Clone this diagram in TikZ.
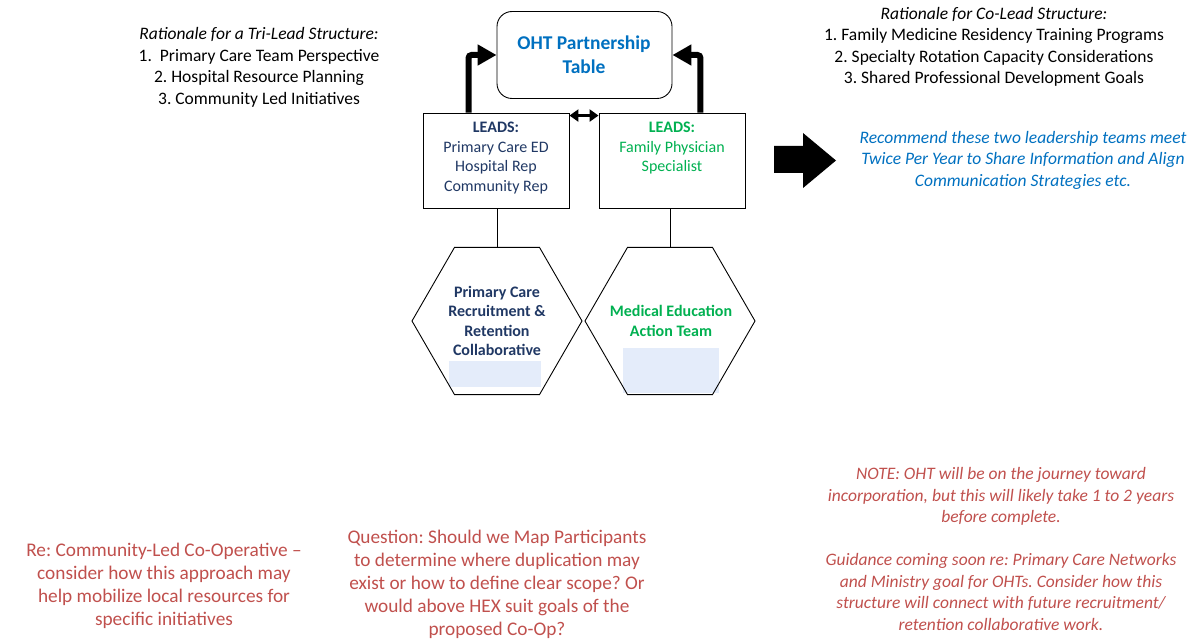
\documentclass[tikz,border=0pt]{standalone}
\usepackage{fontspec}
\setmainfont{Carlito}
\usetikzlibrary{shapes.geometric,arrows.meta}
\definecolor{navy}{HTML}{203864}
\definecolor{mygreen}{HTML}{00B050}
\definecolor{myblue}{HTML}{0070C0}
\definecolor{myred}{HTML}{C0504D}
\definecolor{paleblue}{HTML}{E4ECFA}
\frenchspacing
\begin{document}
\begin{tikzpicture}[x=1pt,y=-1pt,
  txt/.style={align=center,inner sep=0pt,font=\fontsize{17.5}{21.5}\selectfont},
  bigtxt/.style={align=center,inner sep=0pt,font=\fontsize{19.3}{23}\selectfont},
  leadtxt/.style={align=center,inner sep=0pt,font=\fontsize{16}{19.5}\selectfont},
  leadbox/.style={draw,line width=0.9pt,minimum width=146pt,minimum height=95pt,inner sep=0pt},
  hexa/.style={draw,line width=0.9pt,regular polygon,regular polygon sides=6,minimum size=170pt,inner sep=0pt},
  fatarrow/.style={line width=6pt,rounded corners=3pt,-{Triangle[length=19pt,width=20pt]}},
  pale/.style={fill=paleblue,draw=none}
]
\useasboundingbox (0,0) rectangle (1195,639);

% OHT table
\node[draw,line width=0.9pt,rounded corners=15pt,minimum width=175pt,minimum height=87pt] (oht) at (584.5,55) {};
\node[txt,font=\bfseries\fontsize{19.5}{24}\selectfont,text=myblue] (ohttxt) at (584,55) {OHT Partnership\\Table};

% lead boxes
\node[leadbox] (L) at (496,160.5) {};
\node[leadbox] (R) at (672,160.5) {};
\node[leadtxt,text=navy,anchor=north] (Ltxt) at (496,122) {\textbf{LEADS:}\\Primary Care ED\\Hospital Rep\\Community Rep};
\node[leadtxt,text=mygreen,anchor=north] (Rtxt) at (672,122) {\textbf{LEADS:}\\Family Physician\\Specialist};

% hexagons
\node[pale,minimum width=92pt,minimum height=26pt] (pL) at (495,374) {};
\node[pale,minimum width=96pt,minimum height=45pt] (pR) at (671,370.5) {};
\node[hexa] (hexL) at (497,321) {};
\node[hexa] (hexR) at (670,321) {};
\node[leadtxt,font=\bfseries\fontsize{16}{19.5}\selectfont,text=navy] (hLtxt) at (497,321) {Primary Care\\Recruitment \&\\Retention\\Collaborative};
\node[leadtxt,font=\bfseries\fontsize{16}{19.5}\selectfont,text=mygreen] (hRtxt) at (671,321) {Medical Education\\Action Team};

% connectors
\draw[line width=0.9pt] (hexL.north |- L.south) -- (hexL.north);
\draw[line width=0.9pt] (hexR.north |- R.south) -- (hexR.north);
\draw[fatarrow] ([xshift=46pt]L.north west) |- (oht.west);
\draw[fatarrow] ([xshift=-45pt]R.north east) |- (oht.east);
\draw[line width=2.5pt,{Triangle[length=9pt,width=12pt]}-{Triangle[length=9pt,width=12pt]}] ([yshift=-3pt]L.north east) -- ([yshift=-3pt]R.north west);

% block arrow
\fill (774,146) -- (803,146) -- (803,133) -- (836,160.5) -- (803,188) -- (803,173) -- (774,173) -- cycle;

% side texts
\node[txt] (tri) at (259,67.5) {\textit{Rationale for a Tri-Lead Structure:}\\1.\ \ Primary Care Team Perspective\\2. Hospital Resource Planning\\3. Community Led Initiatives};
\node[txt] (co) at (994,47) {\textit{Rationale for Co-Lead Structure:}\\1. Family Medicine Residency Training Programs\\2. Specialty Rotation Capacity Considerations\\3. Shared Professional Development Goals};
\node[txt,text=myblue,font=\itshape\fontsize{17.5}{21.5}\selectfont] (rec) at (1023,160) {Recommend these two leadership teams meet\\Twice Per Year to Share Information and Align\\Communication Strategies etc.};

\node[bigtxt,text=myred] (re) at (164,585.5) {Re: Community-Led Co-Operative --\\consider how this approach may\\help mobilize local resources for\\specific initiatives};
\node[bigtxt,text=myred] (q) at (497,584.5) {Question: Should we Map Participants\\to determine where duplication may\\exist or how to define clear scope? Or\\would above HEX suit goals of the\\proposed Co-Op?};
\node[txt,text=myred,font=\itshape\fontsize{17.5}{21.5}\selectfont] (note) at (1001,549) {NOTE: OHT will be on the journey toward\\incorporation, but this will likely take 1 to 2 years\\before complete.\\~\\Guidance coming soon re: Primary Care Networks\\and Ministry goal for OHTs. Consider how this\\structure will connect with future recruitment/\\retention collaborative work.};
\end{tikzpicture}
\end{document}
